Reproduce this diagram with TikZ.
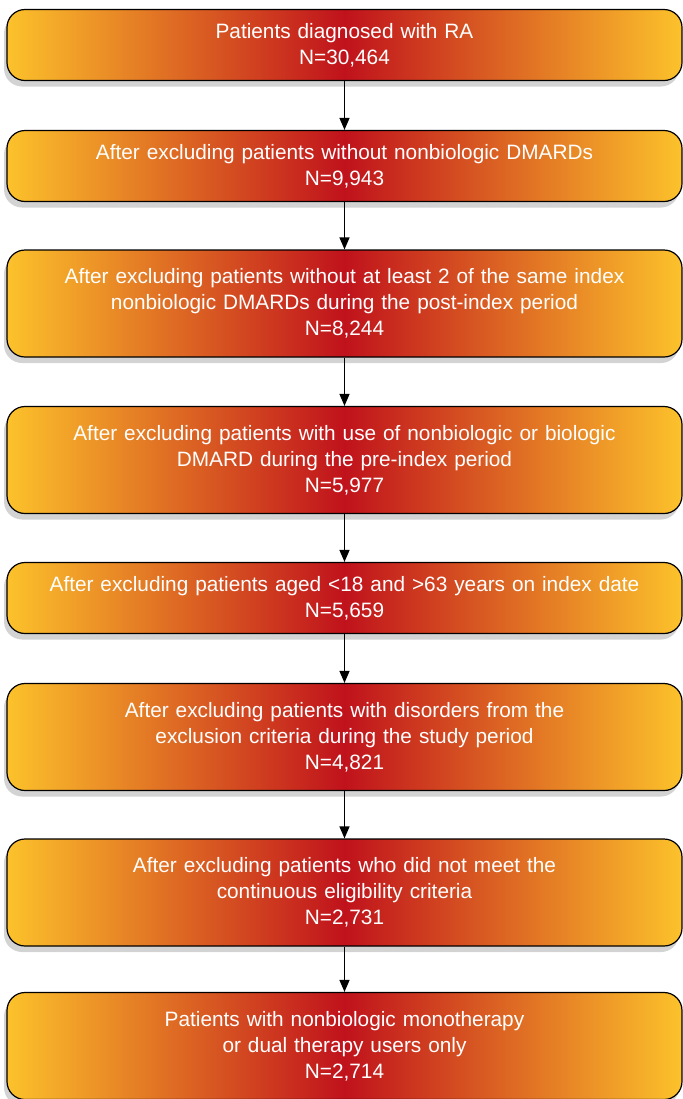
\documentclass[tikz,border=0pt]{standalone}
\usepackage{fontspec}
\setmainfont{Liberation Sans}
\usetikzlibrary{shadows,arrows.meta}
\definecolor{boxyellow}{HTML}{FCC22B}
\definecolor{boxred}{HTML}{C0121C}

\begin{document}
\begin{tikzpicture}[x=0.5pt,y=-0.5pt]
\tikzstyle{every node}+=[inner sep=0pt]
\tikzstyle{stepbox}=[draw=black, line width=0.6pt, rounded corners=9pt,
  minimum width=337.5pt, text width=334pt, align=center,
  left color=boxyellow, right color=boxyellow, middle color=boxred,
  text=white, font=\fontsize{10.4}{13}\selectfont,
  drop shadow={shadow xshift=-1.5pt, shadow yshift=-3pt, opacity=0.35}]
\tikzstyle{shortbox}=[stepbox, minimum height=35.5pt]
\tikzstyle{tallbox}=[stepbox, minimum height=53.5pt]
\useasboundingbox (0,0) rectangle (683,1099);
\node (ra) at (344.5,45) [shortbox] {Patients diagnosed with RA\\N=30,464};
\node (dmards) at (344.5,166) [shortbox] {After excluding patients without nonbiologic DMARDs\\N=9,943};
\node (index) at (344.5,303.5) [tallbox] {After excluding patients without at least 2 of the same index\\nonbiologic DMARDs during the post-index period\\N=8,244};
\node (preindex) at (344.5,460) [tallbox] {After excluding patients with use of nonbiologic or biologic\\DMARD during the pre-index period\\N=5,977};
\node (aged) at (344.5,598) [shortbox] {After excluding patients aged <18 and >63 years on index date\\N=5,659};
\node (disorders) at (344.5,737) [tallbox] {After excluding patients with disorders from the\\exclusion criteria during the study period\\N=4,821};
\node (eligible) at (344.5,892.5) [tallbox] {After excluding patients who did not meet the\\continuous eligibility criteria\\N=2,731};
\node (therapy) at (344.5,1046) [tallbox] {Patients with nonbiologic monotherapy\\or dual therapy users only\\N=2,714};
\foreach \a/\b in {ra/dmards, dmards/index, index/preindex, preindex/aged,
  aged/disorders, disorders/eligible, eligible/therapy}
  \draw [black, line width=0.6pt, -{Triangle[length=6pt,width=5pt]}] (\a) -- (\b);
\end{tikzpicture}
\end{document}
